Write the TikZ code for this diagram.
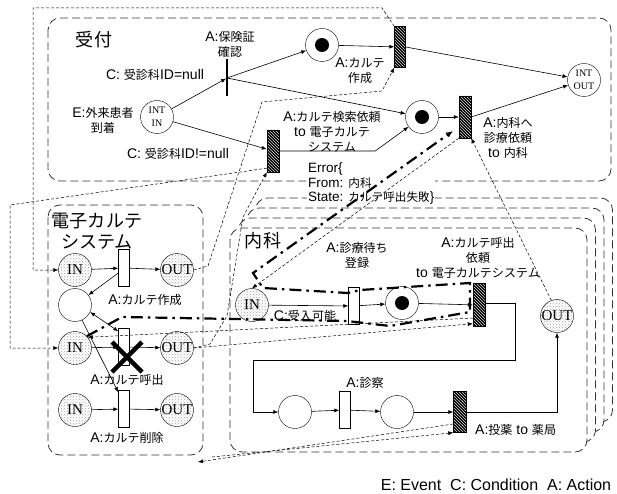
\documentclass[tikz,border=0pt]{standalone}
\usepackage{fontspec}
\setmainfont{Liberation Sans}
\newfontfamily\jpfont[Scale=0.86]{Noto Sans CJK JP}
\newfontfamily\portfont{Liberation Serif}
\newcommand\jt[1]{{\jpfont #1}}
\usetikzlibrary{arrows.meta,patterns}

\begin{document}
\begin{tikzpicture}[
			x=1pt, y=-1pt,
			every node/.style={font=\fontsize{14}{15}\selectfont, inner sep=1pt},
			>={Latex[length=5pt,width=4pt]},
			place/.style={circle, draw, minimum size=33pt, inner sep=0pt},
			marked/.style={place, path picture={\fill (path picture bounding box.center) circle (7pt);}},
			port/.style={place, pattern=crosshatch dots, pattern color=black!35, font=\portfont\fontsize{15}{15}\selectfont},
			intport/.style={place, align=center, font=\portfont\fontsize{10}{13}\selectfont},
			tbar/.style={rectangle, draw, fill=white, minimum width=11pt, minimum height=37pt, inner sep=0pt},
			hbar/.style={rectangle, draw, preaction={fill=black}, pattern=north west lines, pattern color=white!85!black, minimum width=12pt, minimum height=42pt, inner sep=0pt},
			title/.style={align=center, font=\fontsize{21}{21}\selectfont},
			lbl/.style={align=center},
			area/.style={draw=black!80, dash pattern=on 8pt off 4pt, line width=0.8pt, rounded corners=12pt},
			flow/.style={->, line width=0.6pt},
			msg/.style={->, dash pattern=on 3pt off 2pt, line width=0.5pt},
			errpath/.style={line width=2.2pt, dash pattern=on 12pt off 5pt on 2.5pt off 5pt},
			failx/.style={line width=4.5pt}
			]
			\useasboundingbox (0,0) rectangle (617,494);
			
			% Areas
			\draw[area] (48,18) rectangle (611,181);
			\draw[area] (48,205) rectangle (203,455);
			\foreach \k in {3,2,1,0}
				\draw[area, fill=white] (230+8.5*\k,228-10*\k) rectangle (587+8.5*\k,452-10*\k);
			
			% Error message
			\node[anchor=north west, fill=white, align=left, font=\fontsize{13.5}{14.5}\selectfont] (errmsg) at (307,162) {Error\{\\From: \jt{内科}\\State: \jt{カルテ呼出失敗}\}};
			
			% Reception
			\node[title] (t1) at (94,40) {\jt{受付}};
			\node[intport] (intin) at (157,117) {INT\\IN};
			\node[lbl] (ev) at (103,120) {E:\jt{外来患者}\\\jt{到着}};
			\node[fill, minimum width=1.3pt, minimum height=37pt, inner sep=0pt] (chk) at (227,78) {};
			\node[lbl] (a1) at (230,44) {A:\jt{保険証}\\\jt{確認}};
			\node (c1) at (155,75) {C: \jt{受診科}ID=null};
			\node (c2) at (178,154) {C: \jt{受診科}ID!=null};
			\node[marked] (p1) at (322,45) {};
			\node[hbar, minimum width=11pt, minimum height=41pt] (hb2) at (400,47) {};
			\node[lbl] (a2) at (360,71) {A:\jt{カルテ}\\\jt{作成}};
			\node[intport] (intout) at (584,80) {INT\\OUT};
			\node[marked] (p2) at (422,117) {};
			\node[hbar] (hb3) at (465,117) {};
			\node[lbl] (a3) at (508,138) {A:\jt{内科へ}\\\jt{診療依頼}\\to \jt{内科}};
			\node[hbar] (hb1) at (273,151) {};
			\node[lbl] (a4) at (332,132) {A:\jt{カルテ検索依頼}\\to \jt{電子カルテ}\\\jt{システム}};
			
			% Record system
			\node[title] (t2) at (97,231) {\jt{電子カルテ}\\\jt{システム}};
			\node[port] (ein1) at (75,270) {IN};
			\node[tbar] (ebar1) at (124,268) {};
			\node[port] (eout1) at (177,270) {OUT};
			\node (e1) at (145,300) {A:\jt{カルテ作成}};
			\node[place] (ep) at (75,305) {};
			\node[port] (ein2) at (75,348) {IN};
			\node[tbar] (ebar2) at (124,347) {};
			\node[port] (eout2) at (177,348) {OUT};
			\node (e2) at (127,380) {A:\jt{カルテ呼出}};
			\node[port] (ein3) at (75,410) {IN};
			\node[tbar] (ebar3) at (124,409) {};
			\node[port] (eout3) at (177,410) {OUT};
			\node (e3) at (127,438) {A:\jt{カルテ削除}};
			
			% Internal medicine
			\node[title] (t3) at (263,241) {\jt{内科}};
			\node[port] (kin) at (252,305) {IN};
			\node (kc) at (305,316) {C:\jt{受入可能}};
			\node[tbar] (kbar1) at (354,306) {};
			\node[lbl] (k1) at (357,255) {A:\jt{診療待ち}\\\jt{登録}};
			\node[marked] (kp) at (402,303) {};
			\node[hbar, minimum height=43pt] (kcall) at (479,305) {};
			\node[lbl] (k2) at (478,258) {A:\jt{カルテ呼出}\\\jt{依頼}\\to \jt{電子カルテシステム}};
			\node[port] (kout) at (557,316) {OUT};
			\node[place] (pa) at (295,412) {};
			\node[tbar] (kbar2) at (345,410) {};
			\node (k3) at (365,383) {A:\jt{診察}};
			\node[place] (pb) at (397,412) {};
			\node[hbar, minimum width=13pt, minimum height=41pt] (ktou) at (460,412) {};
			\node[anchor=west] (k4) at (474,430) {A:\jt{投薬} to \jt{薬局}};
			
			\node[font=\fontsize{16}{17}\selectfont] (key) at (496,485) {E: Event\ \ C: Condition\ \ A: Action};
			
			% Flows
			\draw[flow] (intin) -- (chk);
			\draw[flow] (chk.center) -- (p1);
			\draw[flow] (chk.center) -- (p2);
			\draw[flow] (intin) -- (hb1);
			\draw[flow] (p1) -- (hb2);
			\draw[flow] (hb2.east) -- (intout);
			\draw[flow] (p2) -- (hb3);
			\draw[flow] (hb3.east) -- (intout);
			\draw[flow] (hb1.east) -- ++(96,0) -- (p2);
			
			\draw[flow] (ein1) -- (ebar1);
			\draw[flow] (ebar1) -- (eout1);
			\draw[flow] ([yshift=-5pt]ebar1.west) -- (ep);
			\draw[flow, <->] (ep.-25) -- ([yshift=-3pt]ebar2.north west);
			\draw[flow] (ep.-65) -- ([yshift=-2pt]ebar3.north west);
			\draw[flow] (ein2) -- (ebar2);
			\draw[flow] (ebar2) -- (eout2);
			\draw[flow] (ein3) -- (ebar3);
			\draw[flow] (ebar3) -- (eout3);
			
			\draw[flow] (kin) -- (kbar1);
			\draw[flow] (kbar1) -- (kp);
			\draw[flow] (kp) -- (kcall);
			\draw[flow] ([yshift=2pt]kcall.east) -- (515,303) -- (515,360) -- (253,360) |- (pa.west);
			\draw[flow] (pa) -- (kbar2);
			\draw[flow] (kbar2) -- (pb);
			\draw[flow] (pb) -- (ktou);
			\draw[flow] (ktou.east) -| (kout.south);
			
			% Messages
			\coordinate (pharm1) at (198,462);
			\coordinate (pharm2) at (212,457);
			\draw[msg] (hb2.north west) -- (382,8) -- (33,8) |- (ein1.west);
			\draw[msg] (eout1.east) -- (208,266) -- (262,102) -- (382,91) -- (hb2.south west);
			\draw[msg] (eout2.east) -- (210,344) -- (227,316) -- (243,217) -- (hb1.south west);
			\draw[msg] ([yshift=4pt]hb1.south west) -- (10,205) |- (ein2.west);
			\draw[msg] (hb3.south west) -- (kin.north);
			\draw[msg] (kout.110) -- (hb3.south east);
			\draw[msg] ([yshift=-13pt]kcall.west) -- (ein2.40);
			\draw[msg] (eout2.east) -- ([yshift=3pt]kcall.south west);
			\draw[msg] ([yshift=-12pt]ktou.west) -- (pharm1);
			\draw[msg] (pharm2) -- (ktou.south west);
			
			% Error trace
			\draw[errpath, -{Latex[length=7pt,width=6pt]}] (ein2.45) -- (122,317) -- (347,321) -- (390,326) -- (470,312) -- (470,283) -- (360,290) -- (348,293) -- (263,288) -- (253,273) -- (453,131);
			\draw[failx] (112,342) -- (142,372) (142,342) -- (112,372);
		\end{tikzpicture}
\end{document}
